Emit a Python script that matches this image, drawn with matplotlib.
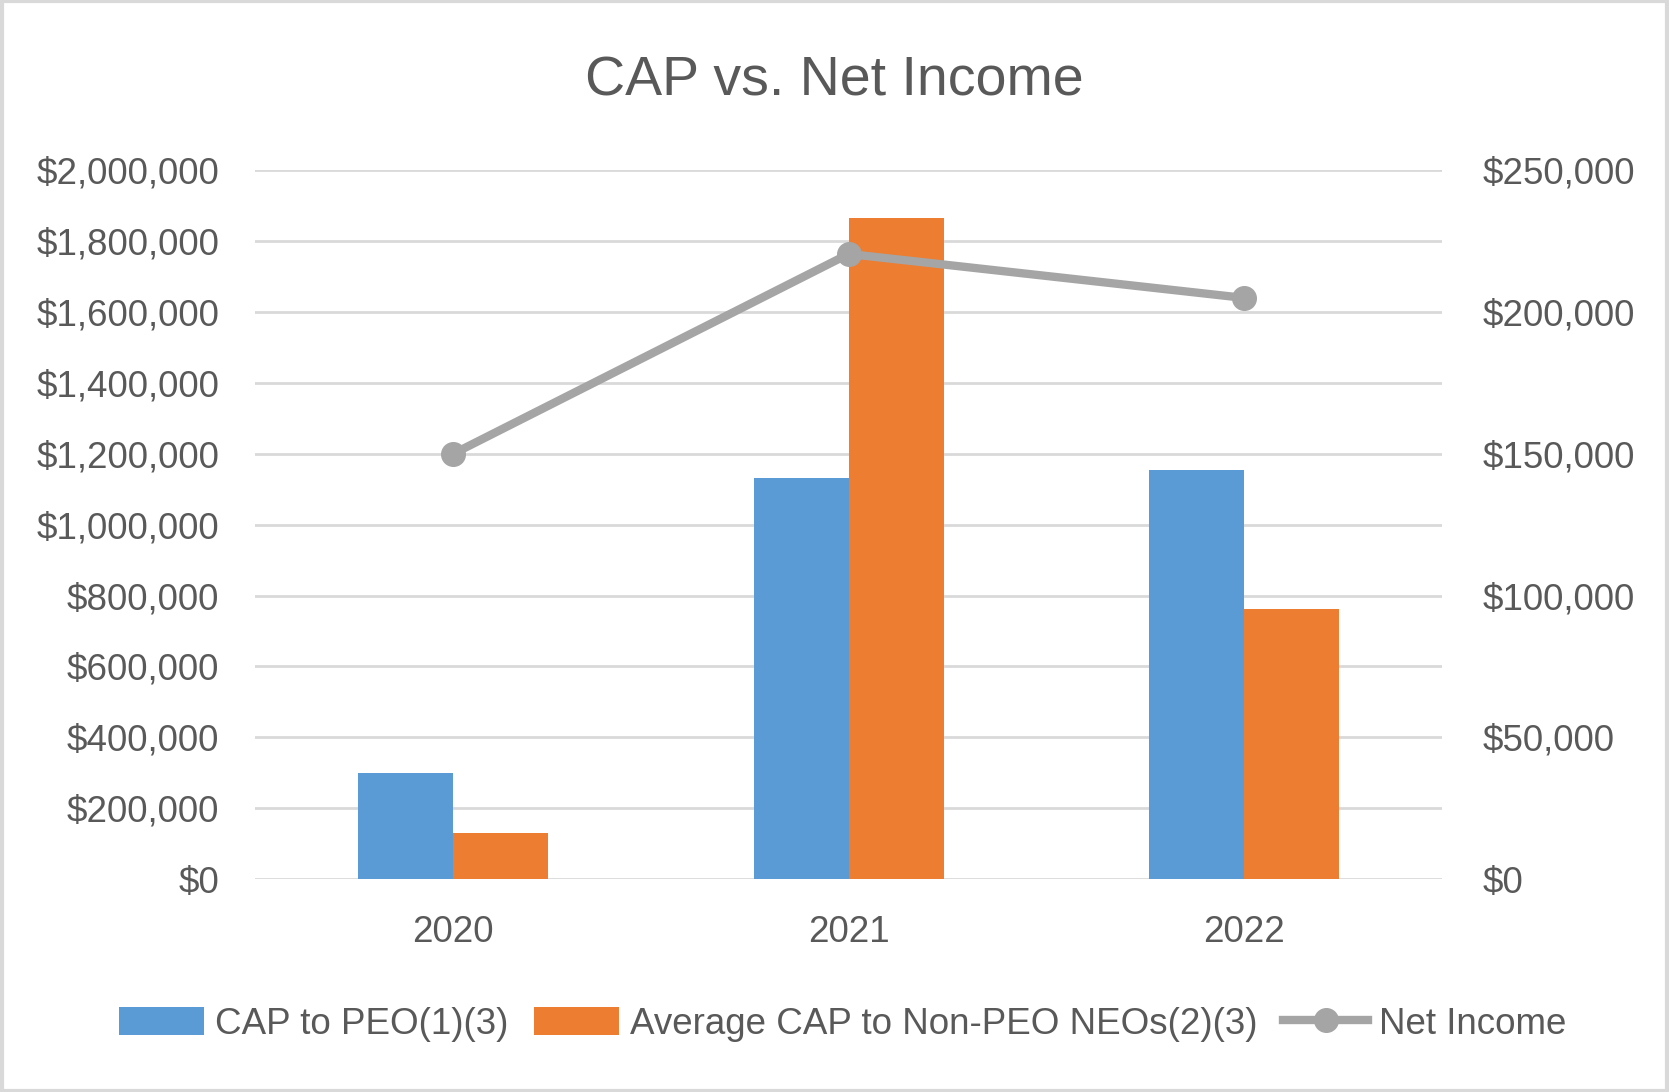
import matplotlib
matplotlib.use("Agg")
import matplotlib.pyplot as plt
from matplotlib.patches import Rectangle
from matplotlib.ticker import FuncFormatter
import numpy as np

plt.rcParams['font.family'] = ['Liberation Sans', 'DejaVu Sans']

years = ["2020", "2021", "2022"]
cap_peo = [300000, 1133000, 1153000]
cap_non_peo = [130000, 1865000, 763000]
net_income = [150000, 220500, 205000]

TEXT = "#595959"
GRID = "#D9D9D9"

fig = plt.figure(figsize=(16.69, 10.92), dpi=100)
ax = fig.add_axes([0.153, 0.195, 0.711, 0.649])
ax2 = ax.twinx()

x = np.arange(len(years))
w = 0.24
ax.bar(x - w / 2, cap_peo, w, color="#5B9BD5", label="CAP to PEO(1)(3)", zorder=3)
ax.bar(x + w / 2, cap_non_peo, w, color="#ED7D31", label="Average CAP to Non-PEO NEOs(2)(3)", zorder=3)
ax2.plot(x, net_income, color="#A5A5A5", lw=6, marker="o", ms=17, label="Net Income", zorder=4)

ax.set_xlim(-0.5, 2.5)
ax.set_ylim(0, 2000000)
ax2.set_ylim(0, 250000)
ax.set_yticks(np.arange(0, 2000001, 200000))
ax2.set_yticks(np.arange(0, 250001, 50000))
fmt = FuncFormatter(lambda v, p: "${:,.0f}".format(v))
ax.yaxis.set_major_formatter(fmt)
ax2.yaxis.set_major_formatter(fmt)
ax.set_xticks(x)
ax.set_xticklabels(years)

ax.grid(axis="y", color=GRID, lw=2, zorder=0)
for a in (ax, ax2):
    for s in a.spines.values():
        s.set_visible(False)
ax.tick_params(axis="y", length=0, labelsize=26.5, labelcolor=TEXT, pad=26)
ax.tick_params(axis="x", length=0, labelsize=26.5, labelcolor=TEXT, pad=26)
ax2.tick_params(axis="y", length=0, labelsize=26.5, labelcolor=TEXT, pad=29)

fig.text(0.5, 0.925, "CAP vs. Net Income", ha="center", va="center", fontsize=40, color=TEXT)

h1, l1 = ax.get_legend_handles_labels()
h2, l2 = ax2.get_legend_handles_labels()
fig.legend(h1 + h2, l1 + l2, loc="center", bbox_to_anchor=(0.505, 0.062), ncol=3,
           frameon=False, fontsize=26.5, labelcolor=TEXT, handlelength=2.3, handleheight=0.8,
           handletextpad=0.3, columnspacing=0.7)

fig.patches.append(Rectangle((0.001, 0.001), 0.998, 0.998, transform=fig.transFigure,
                             fill=False, edgecolor=GRID, lw=3))

fig.savefig("out.png", dpi=100)
